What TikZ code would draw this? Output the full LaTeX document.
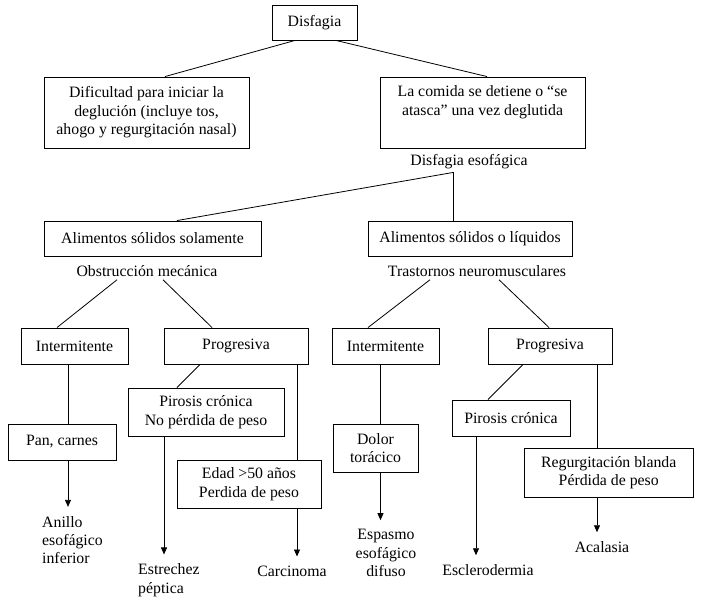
\documentclass[tikz,border=0pt]{standalone}
\usepackage{fontspec}
\setmainfont{Liberation Serif}
\usetikzlibrary{arrows.meta}

\begin{document}
\begin{tikzpicture}[x=1pt, y=-1pt,
    every node/.style={font=\fontsize{15.8}{18.4}\selectfont},
    box/.style={draw, line width=0.9pt, align=center, inner sep=2pt},
    txt/.style={align=center, inner sep=3pt},
    link/.style={line width=0.8pt},
    arrow/.style={line width=0.8pt, -{Triangle[length=7pt, width=6pt]}, shorten >=6pt}]

    \useasboundingbox (0,0) rectangle (701,606);

    % Top of the tree
    \node[box, minimum width=85, minimum height=35] (disfagia) at (314.5,22.5) {Disfagia};
    \node[box, minimum width=205, minimum height=71] (dificultad) at (146.5,112.5)
        {Dificultad para iniciar la\\ deglución (incluye tos,\\ ahogo y regurgitación nasal)};
    \node[box, minimum width=205, minimum height=71] (comida) at (482.5,112.5)
        {La comida se detiene o “se\\ atasca” una vez deglutida\\ \strut};
    \node[txt] (esofagica) at (469,162) {Disfagia esofágica};

    \draw[link] ([xshift=-19.5]disfagia.south) -- ([xshift=18.5]dificultad.north);
    \draw[link] ([xshift=21.5]disfagia.south) -- ([xshift=4.5]comida.north);

    % Solid food / solids or liquids
    \node[box, minimum width=217, minimum height=35] (solidos) at (152.5,238.5) {Alimentos sólidos solamente};
    \node[box, minimum width=204, minimum height=35] (liquidos) at (470,238.5) {Alimentos sólidos o líquidos};
    \node[txt] (obstruccion) at (147,271) {Obstrucción mecánica};
    \node[txt] (trastornos) at (477,271) {Trastornos neuromusculares};

    \draw[link] ([xshift=-16]esofagica.south) -- ([xshift=24.5]solidos.north);
    \draw[link] ([xshift=-16]esofagica.south) -- ([xshift=-16]esofagica.south |- liquidos.north);

    % Intermittent / progressive
    \node[box, minimum width=107, minimum height=36] (interA) at (74.5,346) {Intermitente};
    \node[box, minimum width=144, minimum height=36] (progA) at (236,346) {Progresiva};
    \node[box, minimum width=107, minimum height=36] (interB) at (385.5,346) {Intermitente};
    \node[box, minimum width=124, minimum height=36] (progB) at (550,346) {Progresiva};

    \draw[link] ([xshift=-30]obstruccion.south) -- ([xshift=-17.5]interA.north);
    \draw[link] ([xshift=16]obstruccion.south) -- ([xshift=-24]progA.north);
    \draw[link] ([xshift=-47]trastornos.south) -- ([xshift=-17.5]interB.north);
    \draw[link] ([xshift=22]trastornos.south) -- ([xshift=-1]progB.north);

    % Lower boxes
    \node[box, minimum width=108, minimum height=36] (pan) at (62,442) {Pan, carnes};
    \node[box, minimum width=156, minimum height=48] (pirosisA) at (206,412) {Pirosis crónica\\ No pérdida de peso};
    \node[box, minimum width=144, minimum height=48] (edad) at (249,484) {Edad >50 años\\ Perdida de peso};
    \node[box, minimum width=85, minimum height=48] (dolor) at (375.5,448) {Dolor\\ torácico};
    \node[box, minimum width=118, minimum height=36] (pirosisB) at (511,418) {Pirosis crónica};
    \node[box, minimum width=169, minimum height=49] (regurg) at (608.75,472.5) {Regurgitación blanda\\ Pérdida de peso};

    \draw[link] ([xshift=-6.5]interA.south) -- ([xshift=-6.5]interA.south |- pan.north);
    \draw[link] ([xshift=-36]progA.south) -- ([xshift=-29]pirosisA.north);
    \draw[link] ([xshift=61]progA.south) -- ([xshift=61]progA.south |- edad.north);
    \draw[link] ([xshift=-5]interB.south) -- ([xshift=-5]interB.south |- dolor.north);
    \draw[link] ([xshift=-27]progB.south) -- ([xshift=-23]pirosisB.north);
    \draw[link] ([xshift=47]progB.south) -- ([xshift=47]progB.south |- regurg.north);

    % Diagnoses
    \node[txt, align=left, anchor=west] (anillo) at (39,540) {Anillo\\ esofágico\\ inferior};
    \node[txt, align=left, anchor=west] (estrechez) at (135,580) {Estrechez\\ péptica};
    \node[txt] (carcinoma) at (292,571) {Carcinoma};
    \node[txt] (espasmo) at (386,553) {Espasmo\\ esofágico\\ difuso};
    \node[txt] (esclerodermia) at (488,570) {Esclerodermia};
    \node[txt] (acalasia) at (602,547) {Acalasia};

    \draw[arrow] ([xshift=6]pan.south) -- ([xshift=6]pan.south |- anillo.north);
    \draw[arrow] ([xshift=-42]pirosisA.south) -- ([xshift=-42]pirosisA.south |- estrechez.north);
    \draw[arrow] ([xshift=48]edad.south) -- ([xshift=48]edad.south |- carcinoma.north);
    \draw[arrow] ([xshift=5]dolor.south) -- ([xshift=5]dolor.south |- espasmo.north);
    \draw[arrow] ([xshift=-35]pirosisB.south) -- ([xshift=-35]pirosisB.south |- esclerodermia.north);
    \draw[arrow] ([xshift=-11.75]regurg.south) -- ([xshift=-11.75]regurg.south |- acalasia.north);
\end{tikzpicture}
\end{document}
